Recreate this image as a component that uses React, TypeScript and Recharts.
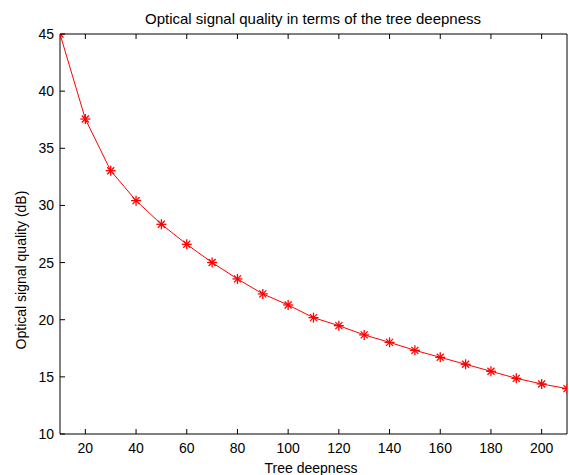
import React from 'react';
import { LineChart, Line, XAxis, YAxis, Customized } from 'recharts';

// tree deepness (x) and optical signal quality in dB (y)
const depth = [10, 20, 30, 40, 50, 60, 70, 80, 90, 100, 110, 120, 130, 140, 150, 160, 170, 180, 190, 200, 210];
const quality = [45, 37.56, 33.04, 30.42, 28.35, 26.6, 25.0, 23.57, 22.26, 21.29, 20.18, 19.48, 18.67, 18.02, 17.32, 16.71, 16.1, 15.49, 14.87, 14.38, 13.97];
const xTicks = [20, 40, 60, 80, 100, 120, 140, 160, 180, 200];
const yTicks = [10, 15, 20, 25, 30, 35, 40, 45];

const data = depth.map((d, i) => ({ depth: d, quality: quality[i] }));

const FONT = 'Arial, "Liberation Sans", Helvetica, sans-serif';
const TICK_LEN = 5;

const BottomTick = (props: any) => {
  const { x, y, payload } = props;
  return (
    <g>
      <line x1={x} x2={x} y1={y} y2={y - TICK_LEN} stroke="#000" />
      <text x={x} y={y + 19} textAnchor="middle" fontSize={14} fontFamily={FONT} fill="#000">
        {payload.value}
      </text>
    </g>
  );
};

const TopTick = (props: any) => {
  const { x, y } = props;
  return <line x1={x} x2={x} y1={y} y2={y + TICK_LEN} stroke="#000" />;
};

const LeftTick = (props: any) => {
  const { x, y, payload } = props;
  return (
    <g>
      <line x1={x} x2={x + TICK_LEN} y1={y} y2={y} stroke="#000" />
      <text x={x - 6} y={y + 5} textAnchor="end" fontSize={14} fontFamily={FONT} fill="#000">
        {payload.value}
      </text>
    </g>
  );
};

const RightTick = (props: any) => {
  const { x, y } = props;
  return <line x1={x} x2={x - TICK_LEN} y1={y} y2={y} stroke="#000" />;
};

const Star = (props: any) => {
  const { cx, cy } = props;
  if (cx == null || cy == null) return null;
  const r = 5;
  const d = 3.5;
  return (
    <g stroke="#ff0000" strokeWidth={1.3}>
      <line x1={cx - r} x2={cx + r} y1={cy} y2={cy} />
      <line x1={cx} x2={cx} y1={cy - r} y2={cy + r} />
      <line x1={cx - d} x2={cx + d} y1={cy - d} y2={cy + d} />
      <line x1={cx - d} x2={cx + d} y1={cy + d} y2={cy - d} />
    </g>
  );
};

const Texts = () => (
  <g fontFamily={FONT} fill="#000">
    <text x={313} y={24} textAnchor="middle" fontSize={15}>
      Optical signal quality in terms of the tree deepness
    </text>
    <text x={311} y={473} textAnchor="middle" fontSize={14}>
      Tree deepness
    </text>
    <text x={26} y={270} textAnchor="middle" fontSize={14} transform="rotate(-90 26 270)">
      Optical signal quality (dB)
    </text>
  </g>
);

export default function App() {
  return (
    <div style={{ position: 'absolute', left: 0, top: 0, background: '#fff' }}>
      <LineChart width={569} height={475} data={data} margin={{ top: 33, right: 1, bottom: 11, left: 0 }}>
        <XAxis
          dataKey="depth"
          type="number"
          domain={[10, 210]}
          ticks={xTicks}
          allowDataOverflow
          height={30}
          tickSize={0}
          tickMargin={0}
          tickLine={false}
          axisLine={{ stroke: '#000' }}
          tick={<BottomTick />}
          interval={0}
        />
        <XAxis
          xAxisId="top"
          orientation="top"
          dataKey="depth"
          type="number"
          domain={[10, 210]}
          ticks={xTicks}
          height={1}
          tickSize={0}
          tickMargin={0}
          tickLine={false}
          axisLine={{ stroke: '#000' }}
          tick={<TopTick />}
          interval={0}
        />
        <YAxis
          type="number"
          domain={[10, 45]}
          ticks={yTicks}
          allowDataOverflow
          width={60}
          tickSize={0}
          tickMargin={0}
          tickLine={false}
          axisLine={{ stroke: '#000' }}
          tick={<LeftTick />}
          interval={0}
        />
        <YAxis
          yAxisId="right"
          orientation="right"
          type="number"
          domain={[10, 45]}
          ticks={yTicks}
          width={1}
          tickSize={0}
          tickMargin={0}
          tickLine={false}
          axisLine={{ stroke: '#000' }}
          tick={<RightTick />}
          interval={0}
        />
        <Line
          dataKey="quality"
          stroke="#ff0000"
          strokeWidth={1}
          dot={<Star />}
          activeDot={false}
          isAnimationActive={false}
        />
        <Customized component={Texts} />
      </LineChart>
    </div>
  );
}
